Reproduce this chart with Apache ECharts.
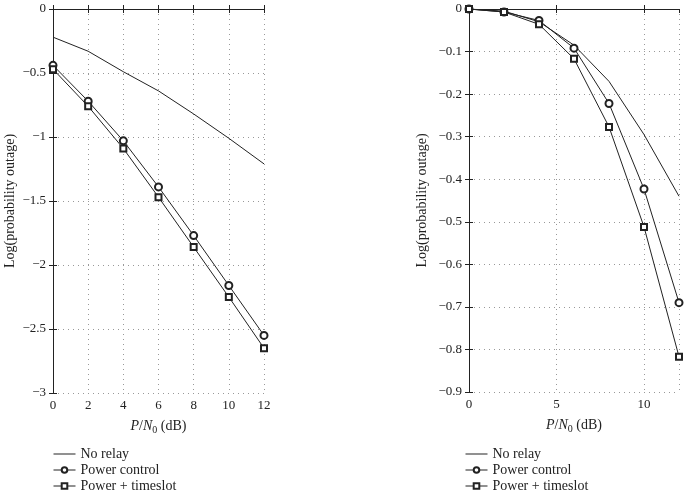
<!DOCTYPE html>
<html><head><meta charset="utf-8">
<script src="https://cdn.jsdelivr.net/npm/echarts@6/dist/echarts.min.js"></script>
<style>html,body{margin:0;padding:0;background:#fff}#c{width:685px;height:496px}</style>
</head><body><div id="c"></div>
<script>
var xValues = [0, 2, 4, 6, 8, 10, 12];
var leftNoRelay = [-0.22, -0.33, -0.49, -0.64, -0.82, -1.01, -1.21];
var leftPowerControl = [-0.44, -0.72, -1.03, -1.39, -1.77, -2.16, -2.55];
var leftPowerTimeslot = [-0.47, -0.76, -1.09, -1.47, -1.86, -2.25, -2.65];
var rightNoRelay = [0, -0.005, -0.03, -0.085, -0.17, -0.295, -0.44];
var rightPowerControl = [0, -0.007, -0.027, -0.092, -0.222, -0.423, -0.69];
var rightPowerTimeslot = [0, -0.007, -0.036, -0.117, -0.277, -0.512, -0.817];
var seriesNames = ['No relay', 'Power control', 'Power + timeslot'];

var FONT = '"Liberation Serif", "DejaVu Serif", serif';
var INK = '#222';
function pairs(ys){ return xValues.map(function(x,i){ return [x, ys[i]]; }); }
function minusFmt(v){ return String(+v.toFixed(2)).replace('-', '\u2212'); }

var splitLine = {show:true, lineStyle:{color:'#999', type:[1,4], width:1}};
function xAxis(gi, interval, showLab){
  return {type:'value', gridIndex:gi, min:0, max:12, interval:interval,
    name: showLab ? '{i|P}/{i|N}{s|0} (dB)' : '', nameLocation:'middle', nameGap:24,
    nameTextStyle:{fontFamily:FONT, fontSize:14, color:INK, rich:{i:{fontStyle:'italic', fontFamily:FONT, fontSize:14, color:INK}, s:{fontFamily:FONT, fontSize:10, color:INK, verticalAlign:'bottom', padding:[8,0,0,0]}}},
    axisLine:{show:true, lineStyle:{color:INK}}, axisTick:{show:true, inside:true, length:4, lineStyle:{color:INK}},
    axisLabel:{show:showLab, fontFamily:FONT, fontSize:13, color:INK, margin:6, showMaxLabel: interval===2, formatter:minusFmt},
    splitLine: showLab ? splitLine : {show:false}};
}
function xTop(gi, interval){
  return {type:'value', gridIndex:gi, position:'top', min:0, max:12, interval:interval,
    axisLine:{show:true, lineStyle:{color:INK}}, axisTick:{show:true, inside:true, length:4, lineStyle:{color:INK}},
    axisLabel:{show:false}, splitLine:{show:false}};
}
function yAxis(gi, min, interval, showLab, gap){
  return {type:'value', gridIndex:gi, min:min, max:0, interval:interval, position: showLab ? 'left' : 'right',
    name: showLab ? 'Log(probability outage)' : '', nameLocation:'middle', nameGap: gap || 40,
    nameTextStyle:{fontFamily:FONT, fontSize:14, color:INK},
    axisLine:{show:true, lineStyle:{color:INK}}, axisTick:{show:true, inside:true, length:4, lineStyle:{color:INK}},
    axisLabel:{show:showLab, fontFamily:FONT, fontSize:13, color:INK, margin:7, formatter:minusFmt},
    splitLine: showLab ? splitLine : {show:false}};
}
function line(name, data, xi, yi, sym){
  return {type:'line', name:name, data:pairs(data), xAxisIndex:xi, yAxisIndex:yi,
    symbol: sym || 'none', symbolSize: sym==='emptyRect' ? 6 : 7, showSymbol: !!sym,
    lineStyle:{color:INK, width:1}, itemStyle:{color:INK, borderColor:INK, borderWidth:1},
    emphasis:{disabled:true}, animation:false, z: 3};
}
var legendData = [
  {name:'No relay', icon:'path://M0,0 L22,0 L22,1 L0,1 Z', itemStyle:{borderWidth:0}},
  {name:'Power control'},
  {name:'Power + timeslot'}
];
var legendBase = {orient:'vertical', itemWidth:22, itemHeight:7, itemGap:2, padding:0, data:legendData,
  lineStyle:{width:1}, itemStyle:{borderWidth:1},
  textStyle:{fontFamily:FONT, fontSize:14, color:INK, lineHeight:14, padding:[0,0,0,0]},
  selectedMode:false, inactiveColor:INK};

var chart = echarts.init(document.getElementById('c'), null, {renderer:'canvas'});
chart.setOption({
  backgroundColor:'#fff',
  animation:false,
  grid:[
    {left:53, top:9, width:211, height:384, show:false},
    {left:469, top:9, width:210, height:383, show:false}
  ],
  xAxis:[xAxis(0,2,true), xTop(0,2), xAxis(1,5,true), xTop(1,5)],
  yAxis:[yAxis(0,-3,0.5,true,36), yAxis(0,-3,0.5,false), yAxis(1,-0.9,0.1,true,40), yAxis(1,-0.9,0.1,false)],
  legend:[
    Object.assign({left:53, top:447}, legendBase),
    Object.assign({left:465, top:447}, legendBase)
  ],
  series:[
    line('No relay', leftNoRelay, 0, 0),
    line('Power control', leftPowerControl, 0, 0, 'emptyCircle'),
    line('Power + timeslot', leftPowerTimeslot, 0, 0, 'emptyRect'),
    line('No relay', rightNoRelay, 2, 2),
    line('Power control', rightPowerControl, 2, 2, 'emptyCircle'),
    line('Power + timeslot', rightPowerTimeslot, 2, 2, 'emptyRect')
  ]
});
</script></body></html>
